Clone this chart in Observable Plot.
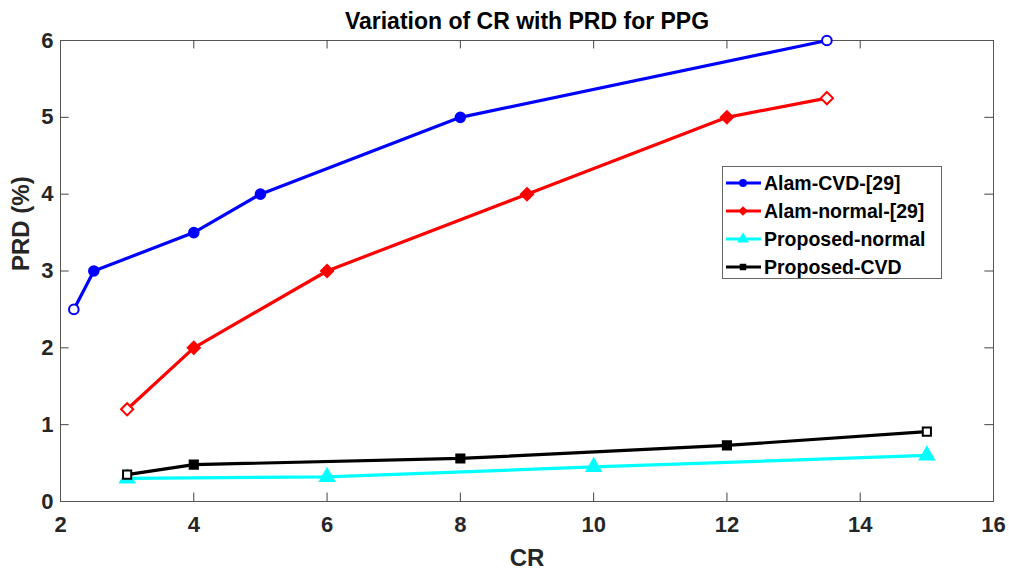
<!DOCTYPE html>
<html><head><meta charset="utf-8">
<script src="https://cdn.jsdelivr.net/npm/d3@7"></script>
<script src="https://cdn.jsdelivr.net/npm/@observablehq/plot@0.6"></script>
<style>
body{margin:0;background:#fff;font-family:"Liberation Sans",Arial,sans-serif;}
#wrap{position:relative;width:1009px;height:569px;}
#legend{position:absolute;left:722px;top:166px;width:220px;height:113px;border:1px solid #666;background:#fff;box-sizing:border-box;}
.li{position:absolute;left:2px;height:24px;display:flex;align-items:center;font-weight:bold;font-size:19.5px;color:#000;white-space:nowrap;}
.li svg{margin-right:3px;}
</style></head><body><div id="wrap"></div>
<script>
const seriesNames = ["Alam-CVD-[29]", "Alam-normal-[29]", "Proposed-normal", "Proposed-CVD"];
const seriesColors = ["#0000ff", "#ff0000", "#00ffff", "#000000"];
const seriesSymbols = ["circle", "diamond2", "triangle", "square"];

const alamCvdCR = [2.2, 2.5, 4, 5, 8, 13.5];
const alamCvdPRD = [2.5, 3, 3.5, 4, 5, 6];
const alamNormalCR = [3, 4, 6, 9, 12, 13.5];
const alamNormalPRD = [1.2, 2, 3, 4, 5, 5.25];
const propNormalCR = [3, 6, 10, 15];
const propNormalPRD = [0.3, 0.32, 0.45, 0.6];
const propCvdCR = [3, 4, 8, 12, 15];
const propCvdPRD = [0.35, 0.48, 0.56, 0.73, 0.91];

const xTicks = [2, 4, 6, 8, 10, 12, 14, 16];
const yTicks = [0, 1, 2, 3, 4, 5, 6];

const crs = [alamCvdCR, alamNormalCR, propNormalCR, propCvdCR];
const prds = [alamCvdPRD, alamNormalPRD, propNormalPRD, propCvdPRD];
// hollow endpoints as rendered in the reference
const hollow = [[0, 5], [0, 5], [], [0, 4]];

const data = [];
seriesNames.forEach((s, si) => {
  crs[si].forEach((c, i) => data.push({series: s, si, cr: c, prd: prds[si][i], hollow: hollow[si].includes(i)}));
});

const font = {fontFamily: "Liberation Sans, Arial, sans-serif", fontWeight: "bold"};
const innerX = xTicks.slice(1, -1);
const innerY = yTicks.slice(1, -1);

const marks = [
  Plot.frame({stroke: "#555", strokeWidth: 1}),
  Plot.axisX(xTicks, {anchor: "bottom", tickSize: 0, tickPadding: 15, fontSize: 22, ...font, fill: "#262626", label: null, tickFormat: d => String(d)}),
  Plot.axisY(yTicks, {anchor: "left", tickSize: 0, tickPadding: 7, fontSize: 22, ...font, fill: "#262626", label: null, tickFormat: d => String(d)}),
  Plot.ruleX(innerX, {x: d => d, y1: 0, y2: 0.11, stroke: "#444"}),
  Plot.ruleX(innerX, {x: d => d, y1: 5.89, y2: 6, stroke: "#444"}),
  Plot.ruleY(innerY, {y: d => d, x1: 2, x2: 2.13, stroke: "#444"}),
  Plot.ruleY(innerY, {y: d => d, x1: 15.87, x2: 16, stroke: "#444"}),
];
seriesNames.forEach((s, si) => {
  const d = data.filter(e => e.si === si);
  marks.push(Plot.line(d, {x: "cr", y: "prd", stroke: seriesColors[si], strokeWidth: 3.2}));
});
const sizes = [4.8, 5.5, 5.2, 4.6];
seriesNames.forEach((s, si) => {
  const d = data.filter(e => e.si === si);
  marks.push(Plot.dot(d, {x: "cr", y: "prd", symbol: () => seriesSymbols[si], r: sizes[si],
    fill: e => e.hollow ? "#fff" : seriesColors[si], stroke: seriesColors[si], strokeWidth: 2}));
});
marks.push(Plot.text(["Variation of CR with PRD for PPG"], {frameAnchor: "top", lineAnchor: "bottom", dy: -12, fontSize: 23, ...font, fill: "#000"}));
marks.push(Plot.text(["CR"], {frameAnchor: "bottom", lineAnchor: "bottom", dy: 64, fontSize: 24, ...font, fill: "#262626"}));
marks.push(Plot.text(["PRD (%)"], {frameAnchor: "left", dx: -39, rotate: -90, fontSize: 24, ...font, fill: "#262626"}));

const chart = Plot.plot({
  width: 1009, height: 569,
  marginLeft: 60, marginRight: 16, marginTop: 40, marginBottom: 68,
  x: {domain: [2, 16]},
  y: {domain: [0, 6]},
  style: {background: "#fff", overflow: "visible"},
  marks
});
const wrap = document.getElementById("wrap");
wrap.appendChild(chart);

// legend
const leg = document.createElement("div");
leg.id = "legend";
const symFns = {circle: d3.symbolCircle, diamond2: d3.symbolDiamond2, triangle: d3.symbolTriangle, square: d3.symbolSquare};
const legSizes = [50, 60, 60, 42];
seriesNames.forEach((s, si) => {
  const row = document.createElement("div");
  row.className = "li";
  row.style.top = (4 + si * 28) + "px";
  const sym = d3.symbol(symFns[seriesSymbols[si]], legSizes[si])();
  row.innerHTML = `<svg width="36" height="14"><line x1="1" x2="36" y1="7" y2="7" stroke="${seriesColors[si]}" stroke-width="3"/><path d="${sym}" transform="translate(18,7)" fill="${seriesColors[si]}"/></svg>${s}`;
  leg.appendChild(row);
});
wrap.appendChild(leg);
</script></body></html>
